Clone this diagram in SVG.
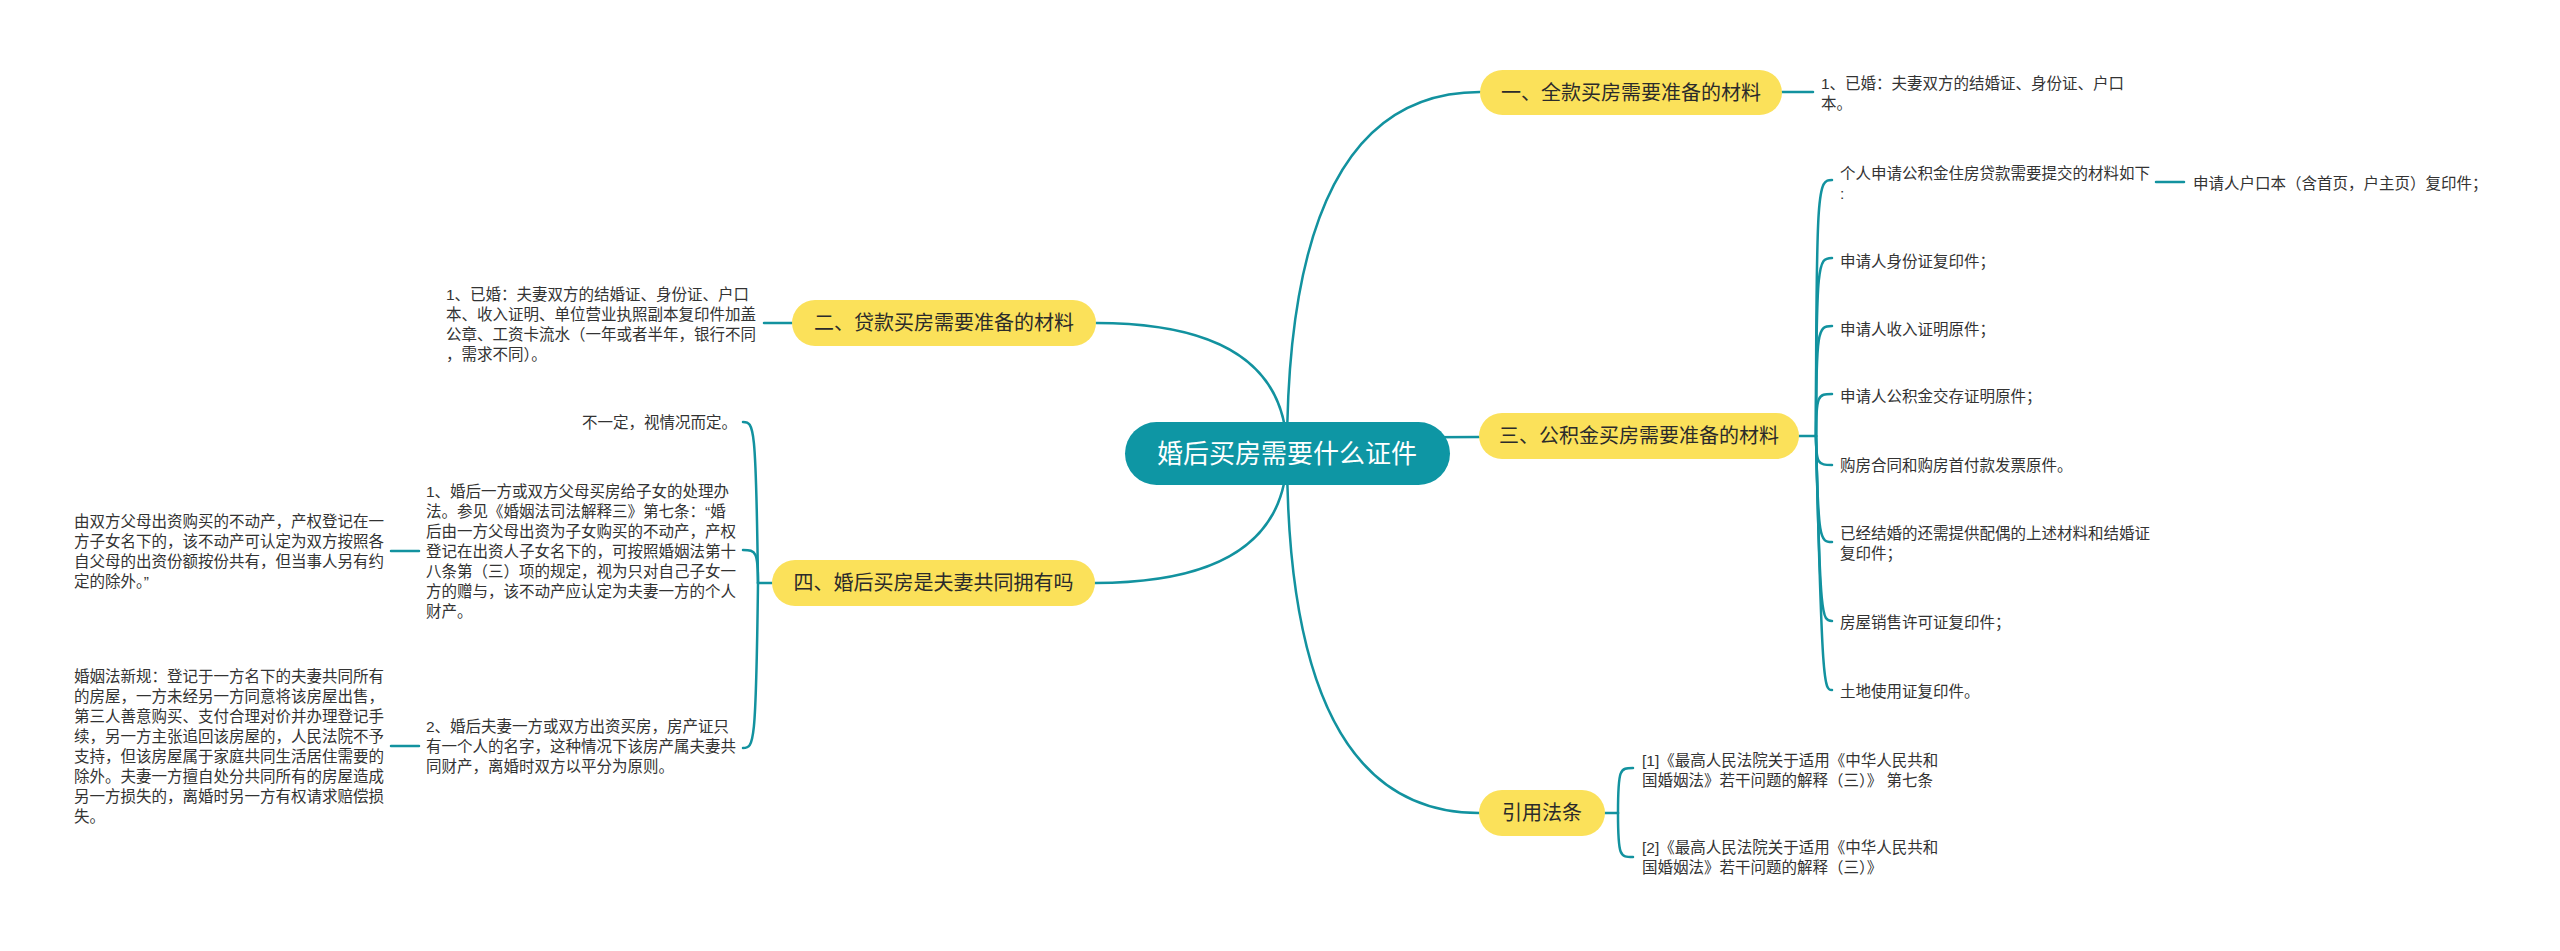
<svg xmlns="http://www.w3.org/2000/svg" width="2560" height="951" viewBox="0 0 2560 951">
<style>
.bg{fill:#ffffff}
.ln{fill:none;stroke:#12929f;stroke-width:2.5;stroke-linecap:round}
.root{fill:#0e96a4}
.root-t{font-family:"Liberation Sans","Noto Sans CJK SC",sans-serif;font-size:26px;fill:#ffffff;text-anchor:middle;dominant-baseline:central}
.br{fill:#fbe15a}
.br-t{font-family:"Liberation Sans","Noto Sans CJK SC",sans-serif;font-size:20px;fill:#2b2b2b;text-anchor:middle;dominant-baseline:central}
.lf{font-family:"Liberation Sans","Noto Sans CJK SC",sans-serif;font-size:15.5px;fill:#333333;dominant-baseline:central}
</style>
<rect class="bg" x="0" y="0" width="2560" height="951"/>
<g id="connectors">
  <path class="ln" d="M1287 453 Q1287 92 1480 92"/>
  <path class="ln" d="M1287 453 Q1287 323 1096 323"/>
  <path class="ln" d="M1287 450 C1350 437 1400 437 1479 437"/>
  <path class="ln" d="M1287 453 Q1287 583 1095 583"/>
  <path class="ln" d="M1287 453 Q1287 813 1479 813"/>
  <path class="ln" d="M1782 92 H1813"/>
  <path class="ln" d="M792 323 H764"/>
  <path class="ln" d="M1799 436 H1816"/>
  <path class="ln" d="M1816 436 C1816 183 1818 180 1832 180"/>
  <path class="ln" d="M1816 436 C1816 260 1818 258 1832 258"/>
  <path class="ln" d="M1816 436 C1816 328 1818 326 1832 326"/>
  <path class="ln" d="M1816 436 C1816 395 1818 394 1832 394"/>
  <path class="ln" d="M1816 436 C1816 464 1818 465 1832 465"/>
  <path class="ln" d="M1816 436 C1818 540 1820 542 1832 542"/>
  <path class="ln" d="M1816 436 C1820 620 1822 621 1832 621"/>
  <path class="ln" d="M1816 436 C1822 688 1824 690 1832 690"/>
  <path class="ln" d="M2156 182 H2184"/>
  <path class="ln" d="M772 583 H758"/>
  <path class="ln" d="M758 583 C756 424 754 422 743 422"/>
  <path class="ln" d="M758 583 C758 552 756 550 743 550"/>
  <path class="ln" d="M758 583 C756 746 754 748 743 748"/>
  <path class="ln" d="M419 551 H391"/>
  <path class="ln" d="M419 746 H391"/>
  <path class="ln" d="M1605 813 H1618"/>
  <path class="ln" d="M1618 813 C1618 768 1620 768 1633 768"/>
  <path class="ln" d="M1618 813 C1618 857 1620 857 1633 857"/>
</g>
<g id="root">
  <rect class="root" x="1125" y="422" width="325" height="63" rx="31.5"/>
  <text class="root-t" x="1287" y="453.5">婚后买房需要什么证件</text>
</g>
<g id="branch1">
  <rect class="br" x="1480" y="70" width="302" height="45" rx="22.5"/>
  <text class="br-t" x="1631" y="92.5">一、全款买房需要准备的材料</text>
</g>
<g id="branch2">
  <rect class="br" x="792" y="300" width="304" height="46" rx="23"/>
  <text class="br-t" x="944" y="323">二、贷款买房需要准备的材料</text>
</g>
<g id="branch3">
  <rect class="br" x="1479" y="413" width="320" height="46" rx="23"/>
  <text class="br-t" x="1639" y="436">三、公积金买房需要准备的材料</text>
</g>
<g id="branch4">
  <rect class="br" x="772" y="560" width="323" height="46" rx="23"/>
  <text class="br-t" x="933.5" y="583">四、婚后买房是夫妻共同拥有吗</text>
</g>
<g id="branch5">
  <rect class="br" x="1479" y="790" width="126" height="46" rx="23"/>
  <text class="br-t" x="1542" y="813">引用法条</text>
</g>
<g id="leaf1-1">
  <text class="lf" x="1821" y="83">1、已婚：夫妻双方的结婚证、身份证、户口</text>
  <text class="lf" x="1821" y="103">本。</text>
</g>
<g id="leaf2-1">
  <text class="lf" x="446" y="294">1、已婚：夫妻双方的结婚证、身份证、户口</text>
  <text class="lf" x="446" y="314">本、收入证明、单位营业执照副本复印件加盖</text>
  <text class="lf" x="446" y="334">公章、工资卡流水（一年或者半年，银行不同</text>
  <text class="lf" x="446" y="354">，需求不同）。</text>
</g>
<g id="leaf3-1">
  <text class="lf" x="1840" y="173">个人申请公积金住房贷款需要提交的材料如下</text>
  <text class="lf" x="1840" y="193">:</text>
</g>
<g id="leaf3-1-1">
  <text class="lf" x="2193" y="183">申请人户口本（含首页，户主页）复印件；</text>
</g>
<g id="leaf3-2"><text class="lf" x="1840" y="261">申请人身份证复印件；</text></g>
<g id="leaf3-3"><text class="lf" x="1840" y="329">申请人收入证明原件；</text></g>
<g id="leaf3-4"><text class="lf" x="1840" y="396">申请人公积金交存证明原件；</text></g>
<g id="leaf3-5"><text class="lf" x="1840" y="465">购房合同和购房首付款发票原件。</text></g>
<g id="leaf3-6">
  <text class="lf" x="1840" y="533">已经结婚的还需提供配偶的上述材料和结婚证</text>
  <text class="lf" x="1840" y="553">复印件；</text>
</g>
<g id="leaf3-7"><text class="lf" x="1840" y="622">房屋销售许可证复印件；</text></g>
<g id="leaf3-8"><text class="lf" x="1840" y="691">土地使用证复印件。</text></g>
<g id="leaf4-1"><text class="lf" x="582" y="422">不一定，视情况而定。</text></g>
<g id="leaf4-2">
  <text class="lf" x="426" y="491">1、婚后一方或双方父母买房给子女的处理办</text>
  <text class="lf" x="426" y="511">法。参见《婚姻法司法解释三》第七条：“婚</text>
  <text class="lf" x="426" y="531">后由一方父母出资为子女购买的不动产，产权</text>
  <text class="lf" x="426" y="551">登记在出资人子女名下的，可按照婚姻法第十</text>
  <text class="lf" x="426" y="571">八条第（三）项的规定，视为只对自己子女一</text>
  <text class="lf" x="426" y="591">方的赠与，该不动产应认定为夫妻一方的个人</text>
  <text class="lf" x="426" y="611">财产。</text>
</g>
<g id="leaf4-2-1">
  <text class="lf" x="74" y="521">由双方父母出资购买的不动产，产权登记在一</text>
  <text class="lf" x="74" y="541">方子女名下的，该不动产可认定为双方按照各</text>
  <text class="lf" x="74" y="561">自父母的出资份额按份共有，但当事人另有约</text>
  <text class="lf" x="74" y="581">定的除外。”</text>
</g>
<g id="leaf4-3">
  <text class="lf" x="426" y="726">2、婚后夫妻一方或双方出资买房，房产证只</text>
  <text class="lf" x="426" y="746">有一个人的名字，这种情况下该房产属夫妻共</text>
  <text class="lf" x="426" y="766">同财产，离婚时双方以平分为原则。</text>
</g>
<g id="leaf4-3-1">
  <text class="lf" x="74" y="676">婚姻法新规：登记于一方名下的夫妻共同所有</text>
  <text class="lf" x="74" y="696">的房屋，一方未经另一方同意将该房屋出售，</text>
  <text class="lf" x="74" y="716">第三人善意购买、支付合理对价并办理登记手</text>
  <text class="lf" x="74" y="736">续，另一方主张追回该房屋的，人民法院不予</text>
  <text class="lf" x="74" y="756">支持，但该房屋属于家庭共同生活居住需要的</text>
  <text class="lf" x="74" y="776">除外。夫妻一方擅自处分共同所有的房屋造成</text>
  <text class="lf" x="74" y="796">另一方损失的，离婚时另一方有权请求赔偿损</text>
  <text class="lf" x="74" y="816">失。</text>
</g>
<g id="leaf5-1">
  <text class="lf" x="1642" y="760">[1]《最高人民法院关于适用《中华人民共和</text>
  <text class="lf" x="1642" y="780">国婚姻法》若干问题的解释（三）》 第七条</text>
</g>
<g id="leaf5-2">
  <text class="lf" x="1642" y="847">[2]《最高人民法院关于适用《中华人民共和</text>
  <text class="lf" x="1642" y="867">国婚姻法》若干问题的解释（三）》</text>
</g>
</svg>
